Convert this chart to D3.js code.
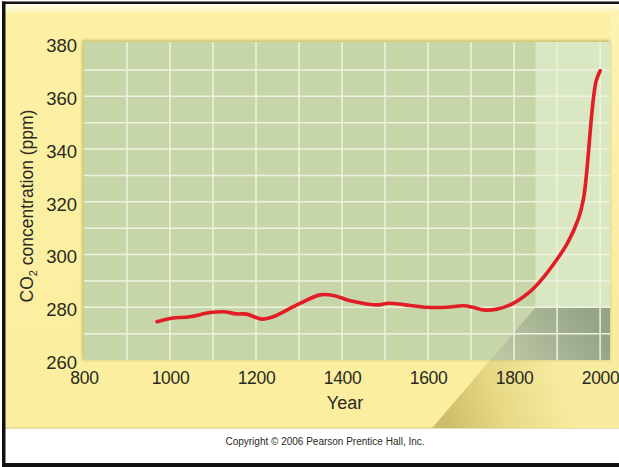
<!DOCTYPE html>
<html>
<head>
<meta charset="utf-8">
<script src="https://cdn.jsdelivr.net/npm/d3@7"></script>
<style>
  html, body { margin: 0; padding: 0; background: #ffffff; }
  svg { display: block; }
  text { font-family: "Liberation Sans", Arial, Helvetica, sans-serif; fill: #2a2a22; }
</style>
</head>
<body>
<svg id="chart" width="619" height="467"></svg>
<script>
// Atmospheric CO2 over the last millennium (ice-core + instrumental record)
const years = [970, 1004, 1046, 1093, 1124, 1155, 1178, 1213, 1240, 1295, 1349, 1380,
               1419, 1484, 1508, 1543, 1597, 1643, 1682, 1705, 1729, 1760, 1798, 1837,
               1860, 1899, 1926, 1950, 1961, 1967, 1972, 1978, 1984, 1989, 1991, 2000];
const ppm   = [274.5, 275.8, 276.4, 278.0, 278.3, 277.5, 277.4, 275.5, 276.4, 280.9, 284.7, 284.5,
               282.5, 280.9, 281.5, 281.0, 280.0, 280.0, 280.6, 280.0, 279.0, 279.3, 281.5, 285.9,
               289.7, 298.0, 304.9, 313.8, 320.8, 328.3, 337.0, 348.6, 358.7, 364.5, 366.0, 369.7];

const xTicks = [800, 1000, 1200, 1400, 1600, 1800, 2000];
const yTicks = [260, 280, 300, 320, 340, 360, 380];
const xGrid  = [900, 1000, 1100, 1200, 1300, 1400, 1500, 1600, 1700, 1800, 1900, 2000];
const yGrid  = [270, 280, 290, 300, 310, 320, 330, 340, 350, 360, 370];

// highlighted industrial-era window
const industrialStart = 1850;
const baseline = 280;

const svg = d3.select("#chart");
const W = 619, H = 467;

const x = d3.scaleLinear().domain([800, 2023]).range([84, 610]);
const y = d3.scaleLinear().domain([260, 380]).range([360, 43.6]);
const [px0, px1] = x.range();
const py0 = 42, py1 = y.range()[0];

const defs = svg.append("defs");

// soft fade from white into the yellow panel at the top
const panelGrad = defs.append("linearGradient").attr("id", "panelGrad")
  .attr("x1", 0).attr("y1", 0).attr("x2", 0).attr("y2", 1);
panelGrad.append("stop").attr("offset", "0%").attr("stop-color", "#fffdf0");
panelGrad.append("stop").attr("offset", "2.5%").attr("stop-color", "#fcf0a4");
panelGrad.append("stop").attr("offset", "100%").attr("stop-color", "#fbee9f");

// projection wedge (yellow part)
const wedgeGrad = defs.append("linearGradient").attr("id", "wedgeGrad")
  .attr("gradientUnits", "userSpaceOnUse")
  .attr("x1", 440).attr("y1", 405).attr("x2", 560).attr("y2", 370);
wedgeGrad.append("stop").attr("offset", "0%").attr("stop-color", "#cdbd68");
wedgeGrad.append("stop").attr("offset", "45%").attr("stop-color", "#e6d884");
wedgeGrad.append("stop").attr("offset", "100%").attr("stop-color", "#f8eca0");

// projection wedge (inside the plot)
const darkGrad = defs.append("linearGradient").attr("id", "darkGrad")
  .attr("gradientUnits", "userSpaceOnUse")
  .attr("x1", 505).attr("y1", 360).attr("x2", 585).attr("y2", 308);
darkGrad.append("stop").attr("offset", "0%").attr("stop-color", "#bcc7a4");
darkGrad.append("stop").attr("offset", "100%").attr("stop-color", "#95a487");

const rightGrad = defs.append("linearGradient").attr("id", "rightGrad")
  .attr("x1", 0).attr("y1", 0).attr("x2", 0).attr("y2", 1);
rightGrad.append("stop").attr("offset", "0%").attr("stop-color", "#fcf3b4");
rightGrad.append("stop").attr("offset", "100%").attr("stop-color", "#f8ec9e");

const blur = defs.append("filter").attr("id", "soft")
  .attr("x", "-5%").attr("y", "-5%").attr("width", "110%").attr("height", "110%");
blur.append("feGaussianBlur").attr("stdDeviation", 1.6);

// yellow panel
svg.append("rect").attr("x", 5).attr("y", 4).attr("width", W - 5).attr("height", 424)
  .attr("fill", "url(#panelGrad)");
// light strip at right margin
svg.append("rect").attr("x", px1).attr("y", 14).attr("width", W - px1).attr("height", 300)
  .attr("fill", "url(#rightGrad)");
svg.append("line").attr("x1", 5).attr("x2", W).attr("y1", 428).attr("y2", 428)
  .attr("stroke", "#e3d68e").attr("stroke-width", 1.5);

// wedge projected from the highlighted window towards the bottom of the panel
const xs = x(industrialStart), ys = y(baseline);
const slope = 102 / 119;                       // horizontal run per unit of drop
const xAt = yy => xs - (yy - ys) * slope;
svg.append("path")
  .attr("d", `M${xAt(py1)},${py1} L${px1},${py1} L${px1},${ys} L${W + 10},${ys + 12}
              L${W + 10},428 L${xAt(428)},428 Z`)
  .attr("fill", "url(#wedgeGrad)");

// plot shadow and background
svg.append("rect").attr("x", px0 - 2).attr("y", py0 - 2)
  .attr("width", px1 - px0 + 2).attr("height", py1 - py0 + 2)
  .attr("fill", "#b7ab5c").attr("opacity", 0.7).attr("filter", "url(#soft)");
svg.append("rect").attr("x", px0).attr("y", py0)
  .attr("width", px1 - px0).attr("height", py1 - py0).attr("fill", "#c6d6a9");

// highlighted window since 1850
svg.append("rect").attr("x", xs).attr("y", py0)
  .attr("width", px1 - xs).attr("height", py1 - py0).attr("fill", "#d9e8c2");

// darker wedge inside the plot, below the 280 ppm baseline
svg.append("path")
  .attr("d", `M${xs},${ys} L${px1},${ys} L${px1},${py1} L${xAt(py1)},${py1} Z`)
  .attr("fill", "url(#darkGrad)");

// grid
const grid = svg.append("g").attr("stroke", "#eef3e0").attr("stroke-width", 1.5);
grid.selectAll("line.v").data(xGrid).join("line").attr("class", "v")
  .attr("x1", d => x(d)).attr("x2", d => x(d)).attr("y1", py0).attr("y2", py1);
grid.selectAll("line.h").data(yGrid).join("line").attr("class", "h")
  .attr("x1", px0).attr("x2", px1).attr("y1", d => y(d)).attr("y2", d => y(d));

// CO2 curve
const line = d3.line().x(d => x(d[0])).y(d => y(d[1])).curve(d3.curveCatmullRom.alpha(0.5));
svg.append("path").datum(years.map((yr, i) => [yr, ppm[i]]))
  .attr("d", line).attr("fill", "none")
  .attr("stroke", "#e21d25").attr("stroke-width", 3.6)
  .attr("stroke-linecap", "round").attr("stroke-linejoin", "round");

// axes (labels only)
const yAxis = svg.append("g").attr("transform", `translate(${px0 - 7},0)`)
  .call(d3.axisLeft(y).tickValues(yTicks).tickSize(0).tickPadding(0));
yAxis.select(".domain").remove();
yAxis.selectAll("text").attr("font-size", 18.5).attr("dy", "0.45em")
  .style("font-family", "'Liberation Sans', Arial, sans-serif").attr("fill", "#2a2a22");

const xAxis = svg.append("g").attr("transform", `translate(0,${py1 + 11})`)
  .call(d3.axisBottom(x).tickValues(xTicks).tickFormat(d3.format("d")).tickSize(0).tickPadding(0));
xAxis.select(".domain").remove();
xAxis.selectAll("text").attr("font-size", 17.5).attr("dy", "0.72em")
  .attr("letter-spacing", -0.3)
  .style("font-family", "'Liberation Sans', Arial, sans-serif").attr("fill", "#2a2a22");

svg.append("text").attr("x", 345).attr("y", 409).attr("text-anchor", "middle")
  .attr("font-size", 18).text("Year");

const yTitle = svg.append("text")
  .attr("transform", "translate(33,206) rotate(-90)")
  .attr("text-anchor", "middle").attr("font-size", 17.5);
yTitle.append("tspan").text("CO");
yTitle.append("tspan").attr("font-size", 11).attr("dy", 4).text("2");
yTitle.append("tspan").attr("dy", -4).text(" concentration (ppm)");

svg.append("text").attr("x", 325).attr("y", 445).attr("text-anchor", "middle")
  .attr("font-size", 10).attr("fill", "#333").text("Copyright \u00A9 2006 Pearson Prentice Hall, Inc.");

// frame
const frame = svg.append("g").attr("fill", "#111");
frame.append("rect").attr("x", 2).attr("y", 1.5).attr("width", W - 2).attr("height", 2.5);
frame.append("rect").attr("x", 2).attr("y", 1.5).attr("width", 3.5).attr("height", H - 1.5);
frame.append("rect").attr("x", 2).attr("y", 463).attr("width", W - 2).attr("height", 4);
</script>
</body>
</html>
